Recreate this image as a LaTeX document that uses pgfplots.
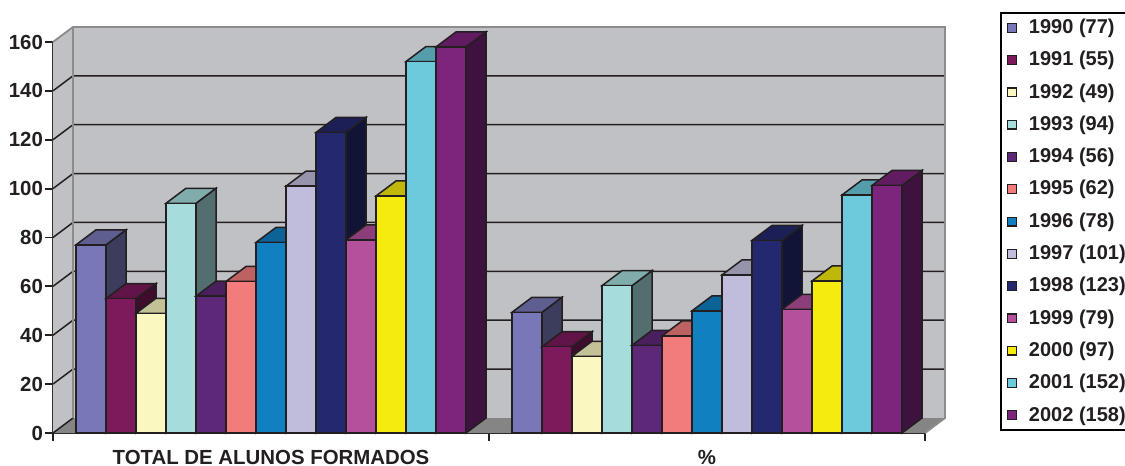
\documentclass[border=0pt]{standalone}
\usepackage{pgfplots}
\pgfplotsset{compat=1.18}
\usepackage{fontspec}
\setmainfont{Liberation Sans}
\definecolor{c1990}{HTML}{7878B8}
\definecolor{c1991}{HTML}{7C1A5C}
\definecolor{c1992}{HTML}{FAF7C0}
\definecolor{c1993}{HTML}{A6DCDC}
\definecolor{c1994}{HTML}{5E2878}
\definecolor{c1995}{HTML}{F27C7C}
\definecolor{c1996}{HTML}{1080C0}
\definecolor{c1997}{HTML}{C0BCDC}
\definecolor{c1998}{HTML}{24286E}
\definecolor{c1999}{HTML}{B4509C}
\definecolor{c2000}{HTML}{F5EB0C}
\definecolor{c2001}{HTML}{6CCADC}
\definecolor{c2002}{HTML}{7D247C}
\definecolor{wallc}{HTML}{C0C1C5}
\definecolor{floorc}{HTML}{858585}
\definecolor{edgec}{HTML}{8C8C8C}
\definecolor{ink}{HTML}{231F20}

\pgfdeclareplotmark{prism}{%
  \pgfmathsetmacro\prh{\barval*1.221875}%
  \pgfsetlinewidth{0.75pt}%
  \pgfsetstrokecolor{ink}%
  \pgfsetmiterjoin
  \pgfsetfillcolor{\prismc!50!black}%
  \pgfpathmoveto{\pgfqpoint{7.5pt}{0pt}}%
  \pgfpathlineto{\pgfqpoint{17.5pt}{7.5pt}}%
  \pgfpathlineto{\pgfpoint{17.5pt}{7.5pt-\prh pt}}%
  \pgfpathlineto{\pgfpoint{7.5pt}{-\prh pt}}%
  \pgfpathclose
  \pgfusepath{fill,stroke}%
  \pgfsetfillcolor{\prismc!78!black}%
  \pgfpathmoveto{\pgfqpoint{-7.5pt}{0pt}}%
  \pgfpathlineto{\pgfqpoint{2.5pt}{7.5pt}}%
  \pgfpathlineto{\pgfqpoint{17.5pt}{7.5pt}}%
  \pgfpathlineto{\pgfqpoint{7.5pt}{0pt}}%
  \pgfpathclose
  \pgfusepath{fill,stroke}%
  \pgfsetfillcolor{\prismc}%
  \pgfpathrectanglecorners{\pgfpoint{-7.5pt}{-\prh pt}}{\pgfqpoint{7.5pt}{0pt}}%
  \pgfusepath{fill,stroke}%
}

\pgfplotsset{
  prism/.style 2 args={only marks, mark=prism, draw=ink, fill=#1,
    /utils/exec={\def\prismc{#1}},
    visualization depends on={rawy \as \barval},
    x filter/.expression={x+(#2)*0.0688073}},
}

\begin{document}
\begin{tikzpicture}
\begin{axis}[
  x=218pt, y=1.221875pt,
  xmin=-0.5, xmax=1.5, ymin=0, ymax=160,
  clip=false,
  axis x line*=bottom, axis y line*=left,
  axis line style={ink, line width=0.9pt},
  ytick={0,20,...,160},
  xtick={-0.5,0.5,1.5}, xticklabels={},
  extra x ticks={0,1},
  extra x tick labels={TOTAL DE ALUNOS FORMADOS,\%},
  extra x tick style={major tick length=0pt, tick label style={yshift=-5pt}},
  tick align=outside, major tick length=4pt,
  tick style={ink, line width=0.9pt},
  every tick label/.append style={font=\bfseries\fontsize{10.2}{12}\selectfont, text=ink},
  yticklabel style={xshift=2.5pt},
  /pgf/number format/assume math mode=true,
  legend style={at={(1.086,1.0767)}, anchor=north west, draw=black, line width=1pt,
    font=\bfseries\fontsize{10}{12}\selectfont, text=ink, row sep=3.4pt, column sep=4pt,
    inner xsep=3pt, inner ysep=1pt},
  legend cell align=left,
  legend image code/.code={\draw[#1, draw=ink, line width=0.6pt] (0pt,-2.2pt) rectangle (4.4pt,2.2pt);},
]
\coordinate (O) at (axis cs:-0.5,0);
% walls
\fill[wallc] ([shift={(10pt,7.5pt)}]axis cs:-0.5,0) rectangle ([shift={(10pt,7.5pt)}]axis cs:1.5,160);
\fill[wallc] (axis cs:-0.5,0) -- ([shift={(10pt,7.5pt)}]axis cs:-0.5,0) -- ([shift={(10pt,7.5pt)}]axis cs:-0.5,160) -- (axis cs:-0.5,160) -- cycle;
\fill[floorc] (axis cs:-0.5,0) -- (axis cs:1.5,0) -- ([shift={(10pt,7.5pt)}]axis cs:1.5,0) -- ([shift={(10pt,7.5pt)}]axis cs:-0.5,0) -- cycle;
\pgfplotsinvokeforeach{20,40,...,140}{
  \draw[ink, line width=0.75pt] (axis cs:-0.5,#1) -- ([shift={(10pt,7.5pt)}]axis cs:-0.5,#1) -- ([shift={(10pt,7.5pt)}]axis cs:1.5,#1);
}
\draw[ink, line width=0.75pt] (axis cs:-0.5,0) -- ([shift={(10pt,7.5pt)}]axis cs:-0.5,0);
\draw[edgec, line width=0.9pt] (axis cs:-0.5,160) -- ([shift={(10pt,7.5pt)}]axis cs:-0.5,160) -- ([shift={(10pt,7.5pt)}]axis cs:1.5,160) -- ([shift={(10pt,7.5pt)}]axis cs:1.5,0) -- (axis cs:1.5,0);
\draw[edgec, line width=0.9pt] ([shift={(10pt,7.5pt)}]axis cs:-0.5,0) -- ([shift={(10pt,7.5pt)}]axis cs:-0.5,160);
% bars
\addplot[prism={c1990}{-6}] coordinates {(0,77) (1,49.4)}; \addlegendentry{1990 (77)}
\addplot[prism={c1991}{-5}] coordinates {(0,55) (1,35.3)}; \addlegendentry{1991 (55)}
\addplot[prism={c1992}{-4}] coordinates {(0,49) (1,31.4)}; \addlegendentry{1992 (49)}
\addplot[prism={c1993}{-3}] coordinates {(0,94) (1,60.3)}; \addlegendentry{1993 (94)}
\addplot[prism={c1994}{-2}] coordinates {(0,56) (1,35.9)}; \addlegendentry{1994 (56)}
\addplot[prism={c1995}{-1}] coordinates {(0,62) (1,39.7)}; \addlegendentry{1995 (62)}
\addplot[prism={c1996}{0}] coordinates {(0,78) (1,50.0)}; \addlegendentry{1996 (78)}
\addplot[prism={c1997}{1}] coordinates {(0,101) (1,64.7)}; \addlegendentry{1997 (101)}
\addplot[prism={c1998}{2}] coordinates {(0,123) (1,78.8)}; \addlegendentry{1998 (123)}
\addplot[prism={c1999}{3}] coordinates {(0,79) (1,50.6)}; \addlegendentry{1999 (79)}
\addplot[prism={c2000}{4}] coordinates {(0,97) (1,62.2)}; \addlegendentry{2000 (97)}
\addplot[prism={c2001}{5}] coordinates {(0,152) (1,97.4)}; \addlegendentry{2001 (152)}
\addplot[prism={c2002}{6}] coordinates {(0,158) (1,101.3)}; \addlegendentry{2002 (158)}
\end{axis}
\pgfresetboundingbox
\path (O) ++(-26.5pt,-16.5pt) rectangle ++(562.5pt,233pt);
\end{tikzpicture}
\end{document}
